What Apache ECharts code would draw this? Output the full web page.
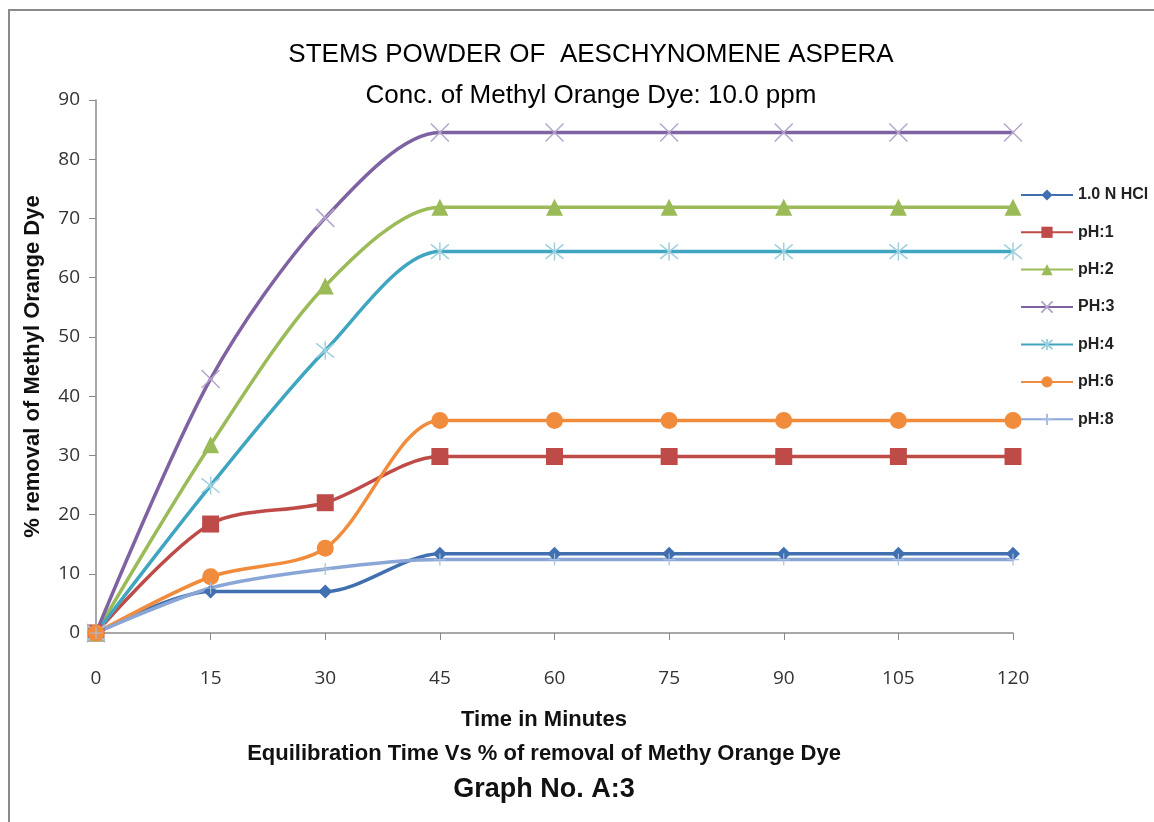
<!DOCTYPE html>
<html>
<head>
<meta charset="utf-8">
<script src="https://cdn.jsdelivr.net/npm/echarts@6/dist/echarts.min.js"></script>
<style>
  html, body { margin: 0; padding: 0; background: #fff; }
  #chart { width: 1154px; height: 822px; }
</style>
</head>
<body>
<div id="chart"></div>
<script>
// time axis (minutes)
const minutes = [0, 15, 30, 45, 60, 75, 90, 105, 120]
const yTicks = [0, 10, 20, 30, 40, 50, 60, 70, 80, 90]

// % removal per series
const hcl = [0, 7, 7, 13.4, 13.4, 13.4, 13.4, 13.4, 13.4]
const ph1 = [0, 18.4, 22, 29.8, 29.8, 29.8, 29.8, 29.8, 29.8]
const ph2 = [0, 31.8, 58.6, 71.9, 71.9, 71.9, 71.9, 71.9, 71.9]
const ph3 = [0, 42.9, 70.1, 84.5, 84.5, 84.5, 84.5, 84.5, 84.5]
const ph4 = [0, 24.9, 47.7, 64.4, 64.4, 64.4, 64.4, 64.4, 64.4]
const ph6 = [0, 9.5, 14.3, 35.9, 35.9, 35.9, 35.9, 35.9, 35.9]
const ph8 = [0, 7.6, 10.8, 12.4, 12.4, 12.4, 12.4, 12.4, 12.4]

const seriesNames = ['1.0 N HCl', 'pH:1', 'pH:2', 'PH:3', 'pH:4', 'pH:6', 'pH:8']

const font = "'Liberation Sans', Arial, sans-serif"
const tickFont = "'Open Sans', 'Liberation Sans', sans-serif"

const pairs = vals => vals.map((v, i) => [minutes[i], v])

// stroke-only marker shapes
const xMark = 'path://M0,0L10,10M10,0L0,10'
const starMark = 'path://M0,1L10,9M10,1L0,9M5,0L5,10'
const plusMark = 'path://M5,0L5,10M0,5L10,5'

const mkSeries = (name, vals, color, symbol, size, markStyle) => ({
  name,
  type: 'line',
  data: pairs(vals),
  smooth: 0.3,
  symbol,
  symbolSize: size,
  lineStyle: { color, width: 3.5 },
  itemStyle: markStyle || { color },
  emphasis: { disabled: true }
})

const chart = echarts.init(document.getElementById('chart'))

chart.setOption({
  animation: false,
  title: [
    { text: 'STEMS POWDER OF  AESCHYNOMENE ASPERA', left: 586, top: 37, textAlign: 'center',
      textStyle: { fontFamily: font, fontSize: 26, fontWeight: 'normal', color: '#000' } },
    { text: 'Conc. of Methyl Orange Dye: 10.0 ppm', left: 586, top: 78, textAlign: 'center',
      textStyle: { fontFamily: font, fontSize: 26, fontWeight: 'normal', color: '#000' } },
    { text: 'Time in Minutes', left: 539, top: 704, textAlign: 'center',
      textStyle: { fontFamily: font, fontSize: 22, fontWeight: 'bold', color: '#111' } },
    { text: 'Equilibration Time Vs % of removal of Methy Orange Dye', left: 539, top: 738, textAlign: 'center',
      textStyle: { fontFamily: font, fontSize: 22, fontWeight: 'bold', color: '#111' } },
    { text: 'Graph No. A:3', left: 539, top: 771, textAlign: 'center',
      textStyle: { fontFamily: font, fontSize: 27, fontWeight: 'bold', color: '#111' } }
  ],
  graphic: [
    { type: 'rect', shape: { x: 9, y: 10, width: 1300, height: 1000 },
      style: { fill: 'none', stroke: '#8a8a8a', lineWidth: 2 }, silent: true }
  ],
  legend: {
    orient: 'vertical',
    left: 1015,
    top: 182,
    itemWidth: 52,
    itemHeight: 14,
    itemGap: 21.3,
    data: seriesNames,
    textStyle: { fontFamily: font, fontSize: 16, fontWeight: 'bold', color: '#222' }
  },
  grid: { left: 96, right: 141, top: 100, bottom: 189 },
  xAxis: {
    type: 'value',
    min: 0,
    max: 120,
    interval: 15,
    axisLine: { lineStyle: { color: '#8a8a8a', width: 1.5 } },
    axisTick: { show: true, length: 7, lineStyle: { color: '#8a8a8a' } },
    splitLine: { show: false },
    axisLabel: { margin: 36, fontFamily: tickFont, fontSize: 19, color: '#333',
      formatter: v => minutes.includes(v) ? String(v) : '' }
  },
  yAxis: {
    type: 'value',
    min: 0,
    max: 90,
    interval: 10,
    name: '% removal of Methyl Orange Dye',
    nameLocation: 'middle',
    nameGap: 52,
    nameTextStyle: { fontFamily: font, fontSize: 22, fontWeight: 'bold', color: '#111' },
    axisLine: { show: true, lineStyle: { color: '#8a8a8a', width: 1.5 } },
    axisTick: { show: true, length: 7, lineStyle: { color: '#8a8a8a' } },
    splitLine: { show: false },
    axisLabel: { margin: 16, fontFamily: tickFont, fontSize: 19, color: '#333',
      formatter: v => yTicks.includes(v) ? String(v) : '' }
  },
  series: [
    mkSeries(seriesNames[0], hcl, '#4170B0', 'diamond', 14),
    mkSeries(seriesNames[1], ph1, '#BE4B48', 'rect', 17),
    mkSeries(seriesNames[2], ph2, '#9BBB59', 'triangle', 17),
    mkSeries(seriesNames[3], ph3, '#7E62A1', xMark, 18,
      { color: 'none', borderColor: '#B5A6CB', borderWidth: 1.5 }),
    mkSeries(seriesNames[4], ph4, '#3FA5C0', starMark, 18,
      { color: 'none', borderColor: '#9FD0DE', borderWidth: 1.5 }),
    mkSeries(seriesNames[5], ph6, '#F08C3C', 'circle', 17),
    mkSeries(seriesNames[6], ph8, '#8AA6D6', plusMark, 12,
      { color: 'none', borderColor: '#A9BEE0', borderWidth: 1.2 })
  ]
})
</script>
</body>
</html>
